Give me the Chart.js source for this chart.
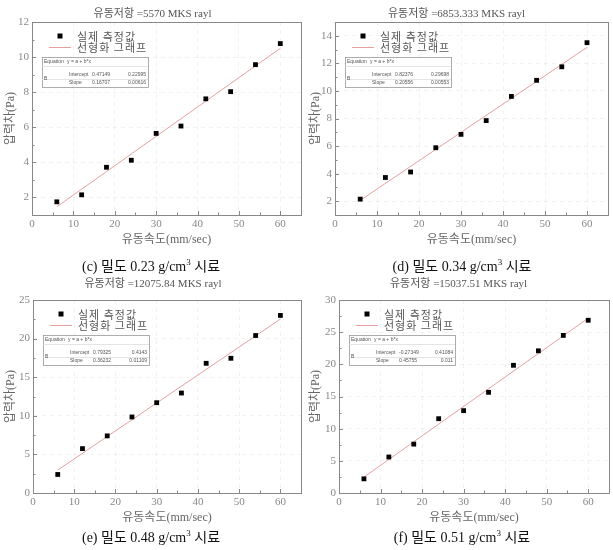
<!DOCTYPE html>
<html>
<head>
<meta charset="utf-8">
<script src="https://cdn.jsdelivr.net/npm/chart.js@4"></script>
<style>
  body { margin: 0; background: #fff; }
  #wrap { position: relative; width: 613px; height: 550px; }
  canvas { position: absolute; }
  .cap { position: absolute; width: 300px; text-align: center; font: 14px "Liberation Serif", "Noto Sans CJK KR", serif; color: #111; }
  .cap sup { font-size: 9px; }
</style>
</head>
<body>
<div id="wrap">
  <canvas id="cC" width="305" height="250" style="left:0;top:0"></canvas>
  <canvas id="cD" width="308" height="250" style="left:305px;top:0"></canvas>
  <canvas id="cE" width="305" height="258" style="left:0;top:270px"></canvas>
  <canvas id="cF" width="308" height="258" style="left:305px;top:270px"></canvas>
  <div class="cap" style="left:1px;top:255px">(c) 밀도 0.23 g/cm<sup>3</sup> 시료</div>
  <div class="cap" style="left:312px;top:255px">(d) 밀도 0.34 g/cm<sup>3</sup> 시료</div>
  <div class="cap" style="left:1px;top:526px">(e) 밀도 0.48 g/cm<sup>3</sup> 시료</div>
  <div class="cap" style="left:312px;top:526px">(f) 밀도 0.51 g/cm<sup>3</sup> 시료</div>
</div>
<script>
// flow velocity (mm/sec)
const speeds = [6, 12, 18, 24, 30, 36, 42, 48, 54, 60];

// measured pressure difference (Pa)
const measuredC = [1.75, 2.15, 3.72, 4.12, 5.65, 6.07, 7.62, 8.03, 9.57, 10.77];
const measuredD = [2.15, 3.72, 4.12, 5.88, 6.85, 7.85, 9.6, 10.77, 11.75, 13.5];
const measuredE = [2.4, 5.75, 7.4, 9.85, 11.7, 12.95, 16.8, 17.45, 20.4, 23.0];
const measuredF = [2.2, 5.6, 7.6, 11.55, 12.8, 15.65, 19.85, 22.1, 24.5, 26.85];

// fitted line end points
const fitX = [6, 60];
const fitC = [1.47, 10.5];
const fitD = [2.06, 13.16];
const fitE = [2.97, 22.53];
const fitF = [2.47, 27.18];

// tick labels
const xTicks = [0, 10, 20, 30, 40, 50, 60];
const yTicksC = [2, 4, 6, 8, 10, 12];
const yTicksD = [2, 4, 6, 8, 10, 12, 14];
const yTicksE = [0, 5, 10, 15, 20, 25];
const yTicksF = [0, 5, 10, 15, 20, 25, 30];

const titles = ['유동저항 =5570 MKS rayl', '유동저항 =6853.333 MKS rayl', '유동저항 =12075.84 MKS rayl', '유동저항 =15037.51 MKS rayl'];
const fitTable = [
  ['0.47149', '0.22995', '0.16707', '0.00616'],
  ['0.82376', '0.29698', '0.20556', '0.00553'],
  ['0.79325', '0.4143', '0.36232', '0.01109'],
  ['-0.27349', '0.41084', '0.45755', '0.011']
];

const serif = '"Liberation Serif", "Noto Sans CJK KR", serif';

const panelDecor = {
  id: 'panelDecor',
  afterDraw(chart, args, o) {
    const { ctx, chartArea: a, scales } = chart;
    ctx.save();
    ctx.strokeStyle = '#888';
    ctx.lineWidth = 1;
    ctx.strokeRect(Math.round(a.left) + 0.5, Math.round(a.top) + 0.5, Math.round(a.right - a.left), Math.round(a.bottom - a.top));

    // inward tick marks, major and minor
    ctx.beginPath();
    const xt = scales.x.ticks.map(t => t.value);
    xt.forEach(v => {
      const px = Math.round(scales.x.getPixelForValue(v)) + 0.5;
      ctx.moveTo(px, a.bottom); ctx.lineTo(px, a.bottom - 4);
      const mv = v + (xt[1] - xt[0]) / 2;
      if (mv < scales.x.max) {
        const mx = Math.round(scales.x.getPixelForValue(mv)) + 0.5;
        ctx.moveTo(mx, a.bottom); ctx.lineTo(mx, a.bottom - 2.5);
      }
    });
    const yt = scales.y.ticks.map(t => t.value);
    yt.forEach(v => {
      const py = Math.round(scales.y.getPixelForValue(v)) + 0.5;
      ctx.moveTo(a.left, py); ctx.lineTo(a.left + 4, py);
      const mv = v + (yt[1] - yt[0]) / 2;
      if (mv < scales.y.max) {
        const my = Math.round(scales.y.getPixelForValue(mv)) + 0.5;
        ctx.moveTo(a.left, my); ctx.lineTo(a.left + 2.5, my);
      }
    });
    ctx.stroke();

    // legend
    const lx = a.left + 28, ly = a.top + 14;
    ctx.fillStyle = '#000';
    ctx.fillRect(lx - 2.5, ly - 2.5, 5, 5);
    ctx.strokeStyle = '#e6a0a0';
    ctx.beginPath();
    ctx.moveTo(lx - 11, ly + 11.5);
    ctx.lineTo(lx + 11, ly + 11.5);
    ctx.stroke();
    ctx.fillStyle = '#555';
    ctx.font = '11px "Noto Sans CJK KR"';
    ctx.letterSpacing = '1px';
    ctx.textBaseline = 'middle';
    ctx.fillText('실제 측정값', lx + 17, ly + 1);
    ctx.fillText('선형화 그래프', lx + 17, ly + 12);
    ctx.letterSpacing = '0px';

    // equation table
    const bx = a.left + 10, by = a.top + 35, bw = 106, bh = 30;
    ctx.fillStyle = '#fff';
    ctx.fillRect(bx, by, bw, bh);
    ctx.strokeStyle = '#999';
    ctx.lineWidth = 0.8;
    ctx.strokeRect(bx + 0.5, by + 0.5, bw, bh);
    ctx.beginPath();
    ctx.moveTo(bx, by + 9.5); ctx.lineTo(bx + bw, by + 9.5);
    ctx.moveTo(bx, by + 22.5); ctx.lineTo(bx + bw, by + 22.5);
    ctx.strokeStyle = '#ddd';
    ctx.stroke();
    ctx.fillStyle = '#555';
    ctx.font = '5px "Liberation Sans"';
    ctx.fillText('Equation', bx + 2, by + 5);
    ctx.fillText('y = a + b*x', bx + 25, by + 5);
    ctx.fillText('B', bx + 2, by + 22);
    ctx.fillText('Intercept', bx + 27, by + 18);
    ctx.fillText('Slope', bx + 27, by + 26);
    ctx.fillText(o.row[0], bx + 50, by + 18);
    ctx.fillText(o.row[2], bx + 50, by + 26);
    ctx.textAlign = 'right';
    ctx.fillText(o.row[1], bx + bw - 2, by + 18);
    ctx.fillText(o.row[3], bx + bw - 2, by + 26);
    ctx.restore();
  }
};

function makeChart(id, values, fit, idx, yTicks, yMin, yMax, yWidth, titlePad) {
  const ctx = document.getElementById(id);
  return new Chart(ctx, {
    type: 'scatter',
    data: {
      datasets: [
        {
          label: '실제 측정값',
          data: speeds.map((x, i) => ({ x: x, y: values[i] })),
          pointStyle: 'rect',
          pointRadius: 3.4,
          backgroundColor: '#000',
          borderColor: '#000',
          borderWidth: 0
        },
        {
          label: '선형화 그래프',
          data: fitX.map((x, i) => ({ x: x, y: fit[i] })),
          showLine: true,
          pointRadius: 0,
          borderColor: '#e6a0a0',
          borderWidth: 1
        }
      ]
    },
    options: {
      responsive: false,
      animation: false,
      layout: { padding: { left: 0, right: ctx.width - 10 - yWidth - 263, top: 0, bottom: 0 } },
      plugins: {
        legend: { display: false },
        tooltip: { enabled: false },
        title: {
          display: true,
          text: titles[idx],
          color: '#555',
          font: { family: serif, size: 11, weight: 'normal' },
          padding: titlePad
        },
        panelDecor: { row: fitTable[idx] }
      },
      scales: {
        x: {
          type: 'linear',
          min: 0, max: 65,
          afterFit(s) { s.height = 35; },
          afterBuildTicks(s) { s.ticks = xTicks.map(v => ({ value: v })); },
          ticks: { color: '#888', font: { family: serif, size: 11 }, padding: 3 },
          grid: { color: 'rgba(0,0,0,0.05)', drawTicks: false },
          border: { color: '#888', dash: [4, 4] },
          title: { display: true, text: '유동속도(mm/sec)', color: '#666', font: { family: serif, size: 12 }, padding: { top: 0, bottom: 3 } }
        },
        y: {
          min: yMin, max: yMax,
          afterFit(s) { s.width = yWidth; },
          afterBuildTicks(s) { s.ticks = yTicks.map(v => ({ value: v })); },
          ticks: { color: '#888', font: { family: serif, size: 11 }, padding: 3 },
          grid: { color: 'rgba(0,0,0,0.05)', drawTicks: false },
          border: { color: '#888', dash: [4, 4] },
          title: { display: true, text: '압력차(Pa)', color: '#666', font: { family: serif, size: 12 }, padding: { top: 4, bottom: 0 } }
        }
      }
    },
    plugins: [panelDecor]
  });
}

makeChart('cC', measuredC, fitC, 0, yTicksC, 1, 12, 32, { top: 8, bottom: 0.8 });
makeChart('cD', measuredD, fitD, 1, yTicksD, 1, 15, 30, { top: 8, bottom: 0.8 });
makeChart('cE', measuredE, fitE, 2, yTicksE, 0, 25, 33, { top: 8, bottom: 8.8 });
makeChart('cF', measuredF, fitF, 3, yTicksF, 0, 30, 34, { top: 8, bottom: 8.8 });
</script>
</body>
</html>
